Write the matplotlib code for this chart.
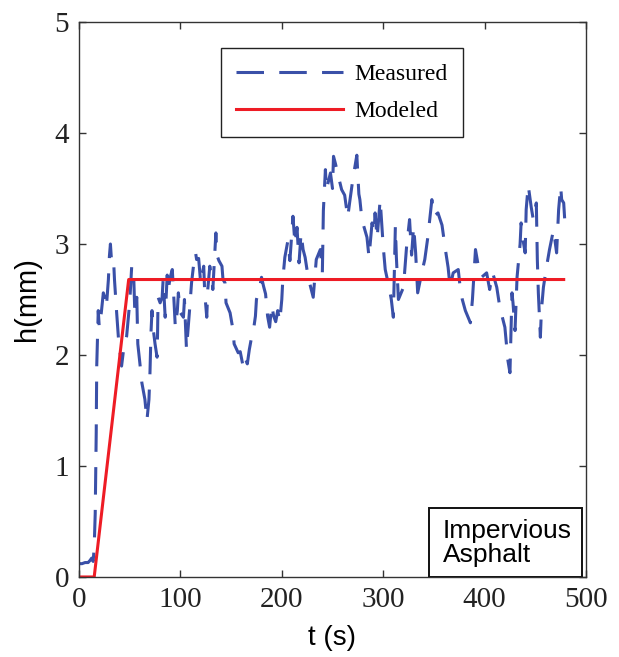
import matplotlib
matplotlib.use('Agg')
import matplotlib.pyplot as plt
from matplotlib.patches import Rectangle

# measured water depth
t_meas = [0, 3, 6, 9, 11, 12.5, 14, 15, 16, 17, 17.5, 19, 20, 22, 24, 26, 27, 29, 30, 31,
          32, 34, 35, 37, 39, 42, 44, 47, 50, 52, 54, 55, 57, 58, 60, 62, 65, 67, 69, 70,
          71, 72, 73, 75, 77, 77.5, 78, 80, 82, 83, 85, 87, 88, 90, 92, 93, 95, 97, 98, 100,
          103, 104, 106, 109, 111, 113, 115, 116, 118, 120, 123, 124, 126, 127, 129, 131, 132, 135, 136, 138,
          141, 142, 144, 145, 149, 152, 153, 157, 159, 162, 164, 166, 168, 170, 172, 174, 175, 178, 180, 182,
          184, 186, 188, 190, 192, 194, 196, 198, 200, 201, 203, 206, 208, 211, 213, 215, 217, 219, 221, 223,
          226, 231, 234, 238, 240, 241, 243, 244, 248, 250, 251, 253, 255, 259, 262, 265, 267, 270, 274, 276,
          277, 279, 284, 286, 289, 291, 292, 294, 297, 300, 302, 306, 308, 310, 312, 313, 315, 320, 323, 326,
          328, 330, 332, 334, 338, 341, 344, 348, 350, 354, 358, 361, 364, 366, 369, 374, 376, 378, 381, 386,
          388, 391, 394, 397, 402, 405, 408, 412, 415, 420, 422, 423, 425, 427, 428, 430, 432, 435, 436, 438,
          440, 441, 443, 446, 448, 451, 452, 453, 455, 456, 458, 461, 464, 468, 471, 473, 475, 476, 478, 479]
h_meas = [0.12, 0.12, 0.13, 0.13, 0.15, 0.17, 0.14, 0.27, 0.57, 1.3, 1.9, 2.4, 2.25, 2.38, 2.56, 2.5, 2.43, 2.68, 2.89, 3.0,
          2.86, 2.88, 2.68, 2.4, 2.14, 1.9, 2.05, 2.17, 2.47, 2.8, 2.7, 2.4, 2.52, 2.1, 1.93, 1.75, 1.6, 1.41, 1.6, 1.84,
          2.2, 2.4, 2.25, 2.1, 1.98, 2.2, 2.52, 2.47, 2.52, 2.68, 2.34, 2.72, 2.59, 2.7, 2.77, 2.61, 2.25, 2.4, 2.56, 2.38,
          2.34, 2.5, 2.05, 2.4, 2.65, 2.81, 2.92, 2.86, 2.87, 2.65, 2.8, 2.56, 2.34, 2.59, 2.8, 2.68, 2.59, 3.1, 2.9, 2.85,
          2.8, 2.68, 2.65, 2.47, 2.38, 2.22, 2.1, 2.02, 2.03, 1.89, 1.97, 1.92, 2.05, 2.15, 2.22, 2.35, 2.5, 2.6, 2.7, 2.62,
          2.55, 2.35, 2.25, 2.45, 2.35, 2.3, 2.4, 2.3, 2.5, 2.68, 2.88, 3.03, 2.85, 3.25, 3.0, 3.15, 2.83, 3.1, 2.95, 2.88,
          2.7, 2.52, 2.86, 2.95, 2.74, 3.3, 3.67, 3.49, 3.64, 3.5, 3.79, 3.72, 3.64, 3.49, 3.44, 3.24, 3.38, 3.58, 3.8, 3.45,
          3.4, 3.22, 3.06, 2.88, 3.19, 3.1, 3.28, 3.05, 3.4, 2.98, 2.77, 2.6, 2.5, 2.34, 3.16, 2.88, 2.5, 2.61, 2.97, 3.22,
          2.9, 3.16, 2.92, 2.56, 2.74, 2.86, 3.06, 3.4, 3.25, 3.28, 3.17, 2.97, 2.79, 2.61, 2.74, 2.77, 2.6, 2.5, 2.4, 2.29,
          2.5, 2.95, 2.79, 2.7, 2.74, 2.59, 2.74, 2.61, 2.43, 2.25, 2.05, 1.95, 1.84, 2.56, 2.47, 2.22, 2.7, 3.0, 3.19, 3.03,
          2.92, 3.31, 3.53, 3.33, 3.22, 3.37, 2.86, 2.56, 2.16, 2.4, 2.61, 2.79, 2.95, 3.13, 2.92, 3.31, 3.52, 3.4, 3.37, 3.22]

# modeled depth
t_mod = [0, 15, 49, 478]
h_mod = [0, 0, 2.68, 2.68]

serif = ['Liberation Serif', 'DejaVu Serif']
sans = ['Liberation Sans', 'DejaVu Sans']

fig = plt.figure(figsize=(6.19, 6.57), dpi=100)
ax = fig.add_axes([0.1276, 0.1218, 0.8191, 0.8447])

ax.plot(t_meas, h_meas, color='#3a50a8', lw=2.2, linestyle=(0, (9, 5)), label='Measured')
ax.plot(t_mod, h_mod, color='#ee1c25', lw=2.2, label='Modeled')

ax.set_xlim(0, 500)
ax.set_ylim(0, 5)
ax.set_xticks([0, 100, 200, 300, 400, 500])
ax.set_yticks([0, 1, 2, 3, 4, 5])
ax.tick_params(direction='in', length=5, width=1, top=True, right=True, pad=7,
               labelsize=21, colors='#333333', labelcolor='#222222')
for lab in ax.get_xticklabels() + ax.get_yticklabels():
    lab.set_family(serif)
for s in ax.spines.values():
    s.set_color('#333333')
    s.set_linewidth(1.0)

ax.set_xlabel('t (s)', family=sans, fontsize=20, labelpad=9)
ax.set_ylabel('h(mm)', family=sans, fontsize=21, labelpad=10)

leg = ax.legend(loc='upper left', bbox_to_anchor=(0.28, 0.953), borderaxespad=0,
                prop={'family': serif, 'size': 17},
                handlelength=4.5, fancybox=False, edgecolor='#222222', framealpha=1,
                borderpad=0.65, labelspacing=0.65, handletextpad=0.5)
leg.get_frame().set_linewidth(1.0)

# label box in the lower right corner
ax.add_patch(Rectangle((0.69, 0.0), 0.302, 0.124, transform=ax.transAxes,
                       fc='white', ec='#111111', lw=1.4, zorder=5))
ax.text(0.717, 0.062, 'Impervious\nAsphalt', transform=ax.transAxes, family=sans, fontsize=19,
        va='center', ha='left', linespacing=1.0, zorder=6)

fig.savefig('out.png', dpi=100)
